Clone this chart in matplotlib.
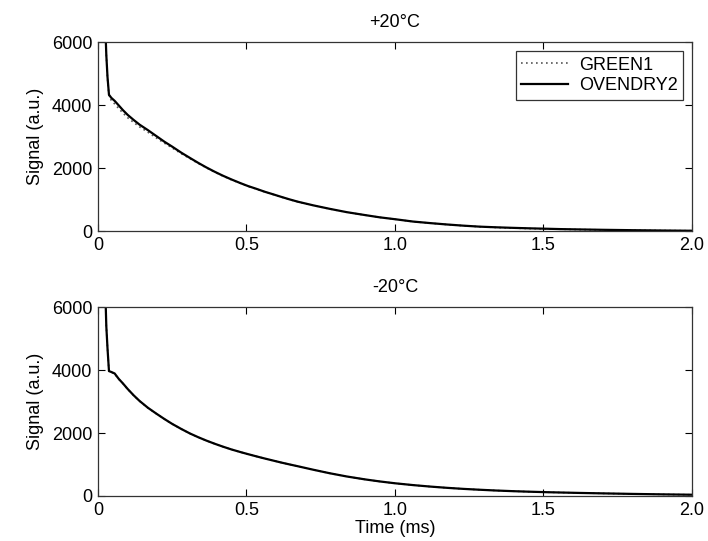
"""
Signal decay at +20 and -20 degC for the GREEN1 and OVENDRY2 samples.
"""

import matplotlib
matplotlib.use("Agg")
import matplotlib.pyplot as plt

plt.rcParams["font.family"] = ["Liberation Sans", "DejaVu Sans"]
plt.rcParams["font.size"] = 13

# ── Data ──────────────────────────────────────────────────────────────────────
time_ms = [0.025, 0.028, 0.032, 0.037, 0.045, 0.056, 0.07, 0.084, 0.1,
           0.12, 0.14, 0.168, 0.196, 0.224, 0.25, 0.281, 0.31, 0.337,
           0.365, 0.393, 0.42, 0.449, 0.48, 0.505, 0.535, 0.561, 0.59,
           0.617, 0.645, 0.673, 0.725, 0.78, 0.837, 0.9, 0.949, 1.0,
           1.061, 1.12, 1.174, 1.23, 1.286, 1.34, 1.398, 1.45, 1.51,
           1.56, 1.622, 1.7, 1.8, 1.9, 2.0]

# +20 C
ovendry2_p20 = [6400, 5600, 4900, 4330, 4230, 4137, 3990, 3841, 3690,
                3530, 3380, 3206, 3020, 2835, 2680, 2486, 2320, 2168,
                2020, 1883, 1760, 1640, 1520, 1429, 1335, 1249, 1165,
                1085, 1005, 931, 815, 705, 600, 505, 434, 375,
                300, 250, 208, 170, 138, 118, 100, 86, 72,
                60, 50, 38, 26, 16, 8]
green1_p20 = [6400, 5600, 4850, 4280, 4150, 4040, 3890, 3750, 3600,
              3450, 3310, 3140, 2960, 2790, 2640, 2455, 2300, 2150,
              2010, 1870, 1750, 1630, 1515, 1420, 1330, 1245, 1160,
              1080, 1000, 928, 812, 702, 598, 503, 432, 373,
              298, 248, 206, 168, 136, 112, 92, 78, 66,
              56, 46, 36, 25, 15, 8]

# -20 C
ovendry2_m20 = [6400, 5400, 4700, 3968, 3940, 3894, 3720, 3577, 3400,
                3200, 3020, 2804, 2620, 2444, 2290, 2127, 1985, 1870,
                1760, 1660, 1570, 1480, 1395, 1330, 1255, 1192, 1125,
                1063, 1003, 945, 834, 723, 621, 526, 462, 404,
                346, 298, 260, 226, 198, 174, 153, 137, 121,
                110, 97, 83, 66, 52, 40]
green1_m20 = [6400, 5400, 4700, 3960, 3935, 3885, 3712, 3570, 3395,
              3195, 3015, 2800, 2617, 2441, 2288, 2125, 1983, 1868,
              1759, 1659, 1569, 1479, 1394, 1329, 1254, 1191, 1124,
              1062, 1002, 944, 833, 722, 620, 525, 461, 403,
              345, 297, 259, 225, 197, 173, 152, 136, 120,
              109, 96, 82, 65, 51, 39]

panels = [
    ("+20°C", green1_p20, ovendry2_p20),
    ("-20°C", green1_m20, ovendry2_m20),
]

x_ticks = [0, 0.5, 1.0, 1.5, 2.0]
x_ticklabels = ["0", "0.5", "1.0", "1.5", "2.0"]
y_ticks = [0, 2000, 4000, 6000]

# ── Figure ────────────────────────────────────────────────────────────────────
fig = plt.figure(figsize=(7.08, 5.41), dpi=100)
ax_top = fig.add_axes([0.1384, 0.573, 0.839, 0.349])
ax_bot = fig.add_axes([0.1384, 0.0832, 0.839, 0.349])

for ax, (title, green, oven) in zip([ax_top, ax_bot], panels):
    ax.plot(time_ms, green, color="#555555", linestyle=(0, (1, 2)),
            linewidth=1.2, label="GREEN1")
    ax.plot(time_ms, oven, color="black", linewidth=1.6, label="OVENDRY2")

    ax.set_xlim(0, 2.0)
    ax.set_ylim(0, 6000)
    ax.set_xticks(x_ticks)
    ax.set_xticklabels(x_ticklabels)
    ax.set_yticks(y_ticks)
    ax.tick_params(direction="in", top=True, right=True, length=5,
                   width=0.8, labelsize=13, pad=4)
    for sp in ax.spines.values():
        sp.set_linewidth(0.9)
        sp.set_color("#333333")
    ax.set_ylabel("Signal (a.u.)", fontsize=13, labelpad=6)
    ax.set_title(title, fontsize=13, pad=11)

ax_bot.set_xlabel("Time (ms)", fontsize=13, labelpad=1)

leg = ax_top.legend(loc="upper right", frameon=True, fancybox=False,
                    edgecolor="black", fontsize=13, handlelength=2.6,
                    borderpad=0.3, labelspacing=0.2, handletextpad=0.6,
                    borderaxespad=0.5)
leg.get_frame().set_linewidth(0.9)

plt.savefig("out.png", dpi=100)
